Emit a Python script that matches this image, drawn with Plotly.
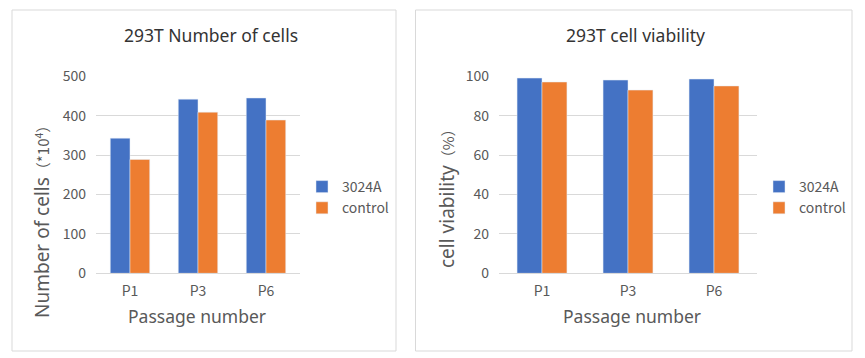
import plotly.graph_objects as go

passages = ["P1", "P3", "P6"]
cells_3024A = [343, 442, 445]
cells_control = [289, 409, 389]
viab_3024A = [99.1, 98.1, 98.6]
viab_control = [97.1, 93.0, 95.1]
series_names = ["3024A", "control"]

BLUE = "#4472C4"
ORANGE = "#ED7D31"
GRID = "#d9d9d9"
GRAY = "#595959"
W, H = 865, 358
OFF = 8  # page body margin compensation

def px(x):
    return (x - OFF) / W

def py(y):
    return 1 - (y - OFF) / H

fig = go.Figure()
fig.add_trace(go.Bar(x=passages, y=cells_3024A, name=series_names[0], marker_color=BLUE,
                     xaxis="x", yaxis="y", legend="legend", offsetgroup="a"))
fig.add_trace(go.Bar(x=passages, y=cells_control, name=series_names[1], marker_color=ORANGE,
                     xaxis="x", yaxis="y", legend="legend", offsetgroup="b"))
fig.add_trace(go.Bar(x=passages, y=viab_3024A, name=series_names[0], marker_color=BLUE,
                     xaxis="x2", yaxis="y2", legend="legend2", offsetgroup="a"))
fig.add_trace(go.Bar(x=passages, y=viab_control, name=series_names[1], marker_color=ORANGE,
                     xaxis="x2", yaxis="y2", legend="legend2", offsetgroup="b"))

font_main = "Noto Sans, Liberation Sans, Arial, sans-serif"
font_tick = "Noto Sans CJK SC, Noto Sans, sans-serif"

common_x = dict(showgrid=False, showline=True, linecolor=GRID, linewidth=1, ticks="",
                tickfont=dict(size=14, color=GRAY, family=font_tick), fixedrange=True,
                automargin=False, ticklabelstandoff=5)
common_y = dict(showgrid=True, gridcolor=GRID, gridwidth=1, showline=False, zeroline=False,
                ticks="", tickfont=dict(size=14, color=GRAY, family=font_tick), ticklabelstandoff=9,
                automargin=False)

def ann(text, x, y, size, color, family, angle=0):
    return dict(text=text, x=px(x), y=py(y), xref="paper", yref="paper", showarrow=False,
                xanchor="center", yanchor="middle", textangle=angle,
                font=dict(size=size, color=color, family=family))

CJK = "font-family:Noto Sans CJK SC;font-size:15px"

fig.update_layout(
    width=W, height=H,
    margin=dict(l=0, r=0, t=0, b=0, pad=0, autoexpand=False),
    paper_bgcolor="white", plot_bgcolor="white",
    barmode="group", bargap=0.42, bargroupgap=0,
    font=dict(family=font_main, color=GRAY),
    xaxis=dict(domain=[px(96), px(300)], anchor="y", **common_x),
    yaxis=dict(domain=[py(273.3), py(76.3)], anchor="x", range=[0, 500], dtick=100, **common_y),
    xaxis2=dict(domain=[px(499), px(757)], anchor="y2", **common_x),
    yaxis2=dict(domain=[py(273.3), py(76.3)], anchor="x2", range=[0, 100], dtick=20, **common_y),
    legend=dict(x=px(302), y=py(171), xanchor="left", yanchor="top",
                font=dict(size=14, color=GRAY, family=font_tick), bgcolor="rgba(0,0,0,0)"),
    legend2=dict(x=px(759), y=py(171), xanchor="left", yanchor="top",
                 font=dict(size=14, color=GRAY, family=font_tick), bgcolor="rgba(0,0,0,0)"),
    shapes=[
        dict(type="rect", xref="paper", yref="paper", x0=px(12), x1=px(396), y0=py(351), y1=py(10),
             line=dict(color=GRID, width=1), fillcolor="rgba(0,0,0,0)", layer="below"),
        dict(type="rect", xref="paper", yref="paper", x0=px(415.5), x1=px(852), y0=py(351), y1=py(10),
             line=dict(color=GRID, width=1), fillcolor="rgba(0,0,0,0)", layer="below"),
    ],
    annotations=[
        ann("293T Number of cells", 211, 35, 17.5, "#333333", font_main),
        ann("293T cell viability", 635, 35, 17.5, "#333333", font_main),
        ann("Passage number", 197, 316, 17.5, GRAY, font_main),
        ann("Passage number", 632, 316, 17.5, GRAY, font_main),
        ann(f"Number of cells<span style='{CJK}'>（*10<sup>4</sup>）</span>", 42, 218, 19, GRAY, font_main, -90),
        ann(f"cell viability<span style='{CJK}'>（%）</span>", 447, 195, 19, GRAY, font_main, -90),
    ],
)

fig.write_html("out.html")
